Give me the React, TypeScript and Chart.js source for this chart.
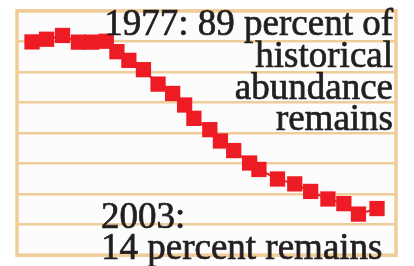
import React, { useEffect, useRef } from "react";
import { Chart, registerables } from "chart.js";

Chart.register(...registerables);

// Years (approximate) and percent of historical abundance
const years = [
  1977.0, 1978.1, 1979.3, 1980.5, 1981.5, 1982.6, 1983.4, 1984.3, 1985.4,
  1986.5, 1987.6, 1988.5, 1989.2, 1990.4, 1991.2, 1992.2, 1993.4, 1994.1,
  1995.5, 1996.8, 1998.0, 1999.3, 2000.5, 2001.6, 2003.0,
];
const percents = [
  89.0, 90.2, 91.9, 88.9, 88.9, 89.3, 84.6, 80.7, 76.5, 70.0, 65.8, 60.6,
  54.6, 49.5, 44.4, 40.1, 34.5, 31.6, 27.3, 25.1, 21.7, 18.3, 16.2, 11.5, 14.0,
];
const topLabel = ["1977: 89 percent of", "historical", "abundance", "remains"];
const bottomLabel = ["2003:", "14 percent remains"];

const yMin = -7;
const yMax = 103;
const yStep = 13.75;
const xMin = 1975.87;
const xMax = 2004.43;

const RED = "#ed1c24";
const TAN = "#f0cd98";

export default function App() {
  const ref = useRef<HTMLCanvasElement | null>(null);

  useEffect(() => {
    document.body.style.margin = "0";
    const canvas = ref.current;
    if (!canvas) return;

    const framePlugin = {
      id: "frameAndText",
      beforeDraw(chart: any) {
        const { ctx, chartArea: a } = chart;
        ctx.save();
        ctx.fillStyle = "#fdfcfc";
        ctx.fillRect(a.left, a.top, a.right - a.left, a.bottom - a.top);
        ctx.restore();
      },
      afterDraw(chart: any) {
        const { ctx, chartArea: a } = chart;
        ctx.save();
        ctx.strokeStyle = TAN;
        ctx.lineWidth = 3.5;
        ctx.strokeRect(a.left, a.top, a.right - a.left, a.bottom - a.top);
        ctx.fillStyle = "#231f20";
        ctx.strokeStyle = "#231f20";
        ctx.lineWidth = 0.7;
        ctx.font = "37px 'Liberation Serif', serif";
        ctx.textAlign = "right";
        ctx.textBaseline = "alphabetic";
        const tb = [35, 67, 99, 130];
        topLabel.forEach((t, i) => {
          ctx.fillText(t, 393, tb[i]);
          ctx.strokeText(t, 393, tb[i]);
        });
        ctx.textAlign = "left";
        const bb = [228, 259];
        bottomLabel.forEach((t, i) => {
          ctx.fillText(t, 101, bb[i]);
          ctx.strokeText(t, 101, bb[i]);
        });
        ctx.restore();
      },
    };

    const chart = new Chart(canvas, {
      type: "line",
      data: {
        datasets: [
          {
            data: years.map((x, i) => ({ x, y: percents[i] })),
            borderColor: RED,
            backgroundColor: RED,
            borderWidth: 2,
            pointStyle: "rect",
            pointRadius: 10.8,
            pointBorderWidth: 0,
            pointBackgroundColor: RED,
            clip: false as any,
          },
        ],
      },
      options: {
        responsive: false,
        animation: false,
        layout: { padding: { left: 17, right: 18, top: 4, bottom: 5 } },
        plugins: { legend: { display: false }, tooltip: { enabled: false } },
        scales: {
          x: {
            type: "linear",
            min: xMin,
            max: xMax,
            display: false,
          },
          y: {
            min: yMin,
            max: yMax,
            afterBuildTicks: (scale: any) => {
              const t = [];
              for (let v = yMin; v <= yMax + 0.001; v += yStep) t.push({ value: v });
              scale.ticks = t;
            },
            ticks: { display: false },
            border: { display: false },
            grid: { color: TAN, lineWidth: 2.5, drawTicks: false },
          },
        },
      },
      plugins: [framePlugin],
    });
    return () => chart.destroy();
  }, []);

  return (
    <div style={{ position: "fixed", left: 0, top: 0, width: 414, height: 266, background: "#fff" }}>
      <canvas ref={ref} width={414} height={266} style={{ display: "block" }} />
    </div>
  );
}
